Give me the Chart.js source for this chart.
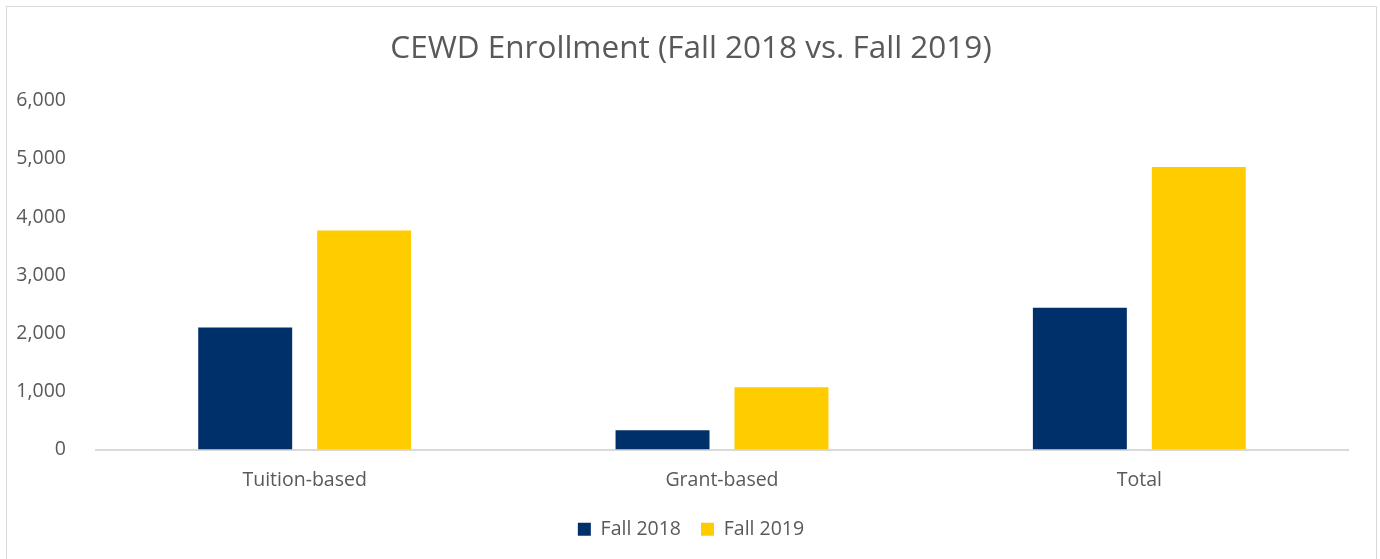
<!DOCTYPE html>
<html>
<head>
<meta charset="utf-8">
<script src="https://cdn.jsdelivr.net/npm/chart.js@4/dist/chart.umd.min.js"></script>
<style>
    html, body { margin: 0; padding: 0; background: #fff; }
    #frame {
        position: absolute; left: 6px; top: 6px; width: 1369px; height: 560px;
        border: 1px solid #d9d9d9; border-bottom: none;
    }
    #wrap { position: absolute; left: 0; top: 0; width: 1380px; height: 559px; }
</style>
</head>
<body>
<div id="frame"></div>
<div id="wrap"><canvas id="MyChart"></canvas></div>
<script>
// Dữ liệu biểu đồ
const categories = ['Tuition-based', 'Grant-based', 'Total'];
const fall2018 = [2100, 330, 2440];
const fall2019 = [3770, 1070, 4860];
const seriesNames = ['Fall 2018', 'Fall 2019'];
const yTicks = [0, 1000, 2000, 3000, 4000, 5000, 6000];

const textColor = '#595959';
const fontFamily = '"Open Sans", Lato, sans-serif';

document.addEventListener("DOMContentLoaded", function () {
    const ctx = document.getElementById('MyChart').getContext('2d');
    new Chart(ctx, {
        type: 'bar',
        data: {
            labels: categories,
            datasets: [{
                label: seriesNames[0],
                data: fall2018,
                backgroundColor: '#003069',
                categoryPercentage: 0.57,
                barPercentage: 0.79
            }, {
                label: seriesNames[1],
                data: fall2019,
                backgroundColor: '#FFCC00',
                categoryPercentage: 0.57,
                barPercentage: 0.79
            }]
        },
        options: {
            responsive: true,
            maintainAspectRatio: false,
            animation: false,
            layout: { padding: { left: 2, right: 0, top: 0, bottom: 10 } },
            plugins: {
                title: {
                    display: true,
                    text: 'CEWD Enrollment (Fall 2018 vs. Fall 2019)',
                    color: textColor,
                    font: { family: fontFamily, size: 31.5, weight: 'normal' },
                    padding: { top: 30, bottom: 33 }
                },
                legend: {
                    position: 'bottom',
                    labels: {
                        color: textColor,
                        font: { family: fontFamily, size: 19.5 },
                        boxWidth: 13,
                        boxHeight: 13,
                        padding: 20
                    }
                },
                tooltip: { enabled: false }
            },
            scales: {
                x: {
                    grid: { display: false },
                    border: { display: true, color: '#d9d9d9', width: 2 },
                    ticks: { color: textColor, font: { family: fontFamily, size: 19.5 }, padding: 11 },
                    afterFit: function (scale) { scale.height = 50; }
                },
                y: {
                    min: 0,
                    max: 6000,
                    afterBuildTicks: function (scale) {
                        scale.ticks = yTicks.map(v => ({ value: v }));
                    },
                    grid: { display: false },
                    border: { display: false },
                    ticks: { color: textColor, font: { family: fontFamily, size: 19.5 }, padding: 22 },
                    afterFit: function (scale) { scale.width = 94; }
                },
                // trục phụ bên phải, chỉ để giữ khoảng trống
                yRight: {
                    type: 'linear',
                    position: 'right',
                    grid: { display: false },
                    border: { display: false },
                    ticks: { display: false },
                    afterFit: function (scale) { scale.width = 32; }
                }
            }
        }
    });
});
</script>
</body>
</html>
